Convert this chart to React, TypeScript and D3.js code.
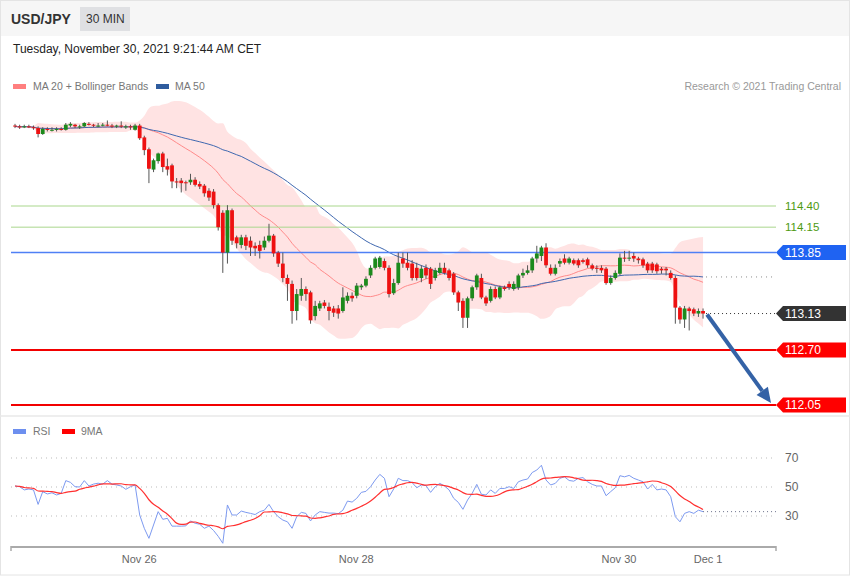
import React from "react";
import * as d3 from "d3";

// ---------- DATA (USD/JPY, 30 min candles) ----------
const open = [
  115.35,115.34,115.33,115.34,115.33,115.32,115.25,115.31,115.30,115.30,
  115.31,115.30,115.35,115.36,115.34,115.34,115.37,115.36,115.35,115.35,
  115.36,115.35,115.34,115.35,115.34,115.34,115.30,115.35,115.21,115.07,
  114.83,114.93,115.02,114.87,114.88,114.69,114.70,114.68,114.68,114.71,
  114.66,114.64,114.58,114.57,114.41,114.32,113.85,114.35,114.03,113.94,
  114.03,113.99,113.93,113.94,113.91,113.99,114.05,113.85,113.72,113.55,
  113.48,113.16,113.34,113.42,113.38,113.10,113.19,113.26,113.21,113.19,
  113.19,113.16,113.28,113.34,113.34,113.44,113.46,113.58,113.67,113.68,
  113.75,113.67,113.37,113.49,113.78,113.73,113.72,113.67,113.55,113.67,
  113.66,113.55,113.61,113.67,113.64,113.60,113.38,113.28,113.08,113.31,
  113.44,113.55,113.32,113.28,113.42,113.32,113.44,113.48,113.42,113.44,
  113.58,113.61,113.64,113.78,113.81,113.91,113.67,113.60,113.72,113.78,
  113.73,113.76,113.76,113.76,113.77,113.70,113.67,113.67,113.66,113.49,
  113.55,113.60,113.79,113.78,113.81,113.78,113.77,113.72,113.72,113.71,
  113.66,113.66,113.61,113.55,113.20,113.06,113.19,113.18,113.13,113.16,
];
const high = [
  115.37,115.36,115.36,115.36,115.35,115.34,115.33,115.33,115.33,115.33,
  115.33,115.38,115.39,115.37,115.36,115.39,115.39,115.37,115.38,115.38,
  115.41,115.37,115.36,115.40,115.36,115.36,115.37,115.37,115.23,115.09,
  114.96,115.03,115.04,114.96,114.90,114.73,114.73,114.70,114.78,114.74,
  114.69,114.66,114.61,114.60,114.43,114.35,114.41,114.37,114.05,114.06,
  114.06,114.04,113.97,113.99,114.04,114.19,114.07,113.87,113.85,113.59,
  113.52,113.42,113.55,113.45,113.40,113.28,113.28,113.29,113.26,113.22,
  113.23,113.44,113.38,113.38,113.49,113.48,113.57,113.70,113.80,113.81,
  113.78,113.70,113.54,113.85,113.85,113.85,113.76,113.73,113.70,113.71,
  113.68,113.67,113.73,113.73,113.66,113.62,113.40,113.31,113.33,113.46,
  113.60,113.60,113.34,113.45,113.45,113.46,113.46,113.51,113.51,113.60,
  113.66,113.70,113.80,113.93,113.93,113.96,113.71,113.71,113.78,113.83,
  113.80,113.78,113.78,113.78,113.79,113.72,113.70,113.70,113.68,113.58,
  113.64,113.84,113.87,113.87,113.85,113.80,113.79,113.74,113.74,113.73,
  113.68,113.68,113.64,113.58,113.22,113.22,113.21,113.20,113.19,113.19,
];
const low = [
  115.32,115.31,115.32,115.32,115.30,115.21,115.24,115.28,115.28,115.28,
  115.29,115.29,115.33,115.32,115.31,115.33,115.35,115.33,115.33,115.34,
  115.34,115.32,115.32,115.32,115.31,115.30,115.29,115.18,115.00,114.67,
  114.80,114.90,114.80,114.76,114.61,114.61,114.56,114.58,114.65,114.63,
  114.60,114.51,114.46,114.37,114.11,113.61,113.72,113.94,113.90,113.90,
  113.88,113.81,113.81,113.78,113.88,113.97,113.80,113.68,113.50,113.28,
  113.01,113.05,113.28,113.28,113.01,113.05,113.16,113.19,113.05,113.09,
  113.07,113.14,113.25,113.27,113.31,113.41,113.44,113.55,113.65,113.66,
  113.64,113.32,113.35,113.47,113.67,113.64,113.52,113.52,113.50,113.54,
  113.42,113.52,113.59,113.59,113.52,113.35,113.16,112.96,112.96,113.28,
  113.41,113.30,113.22,113.26,113.30,113.30,113.40,113.41,113.40,113.41,
  113.55,113.59,113.61,113.73,113.75,113.67,113.58,113.58,113.68,113.71,
  113.71,113.70,113.67,113.72,113.67,113.64,113.61,113.61,113.47,113.47,
  113.53,113.58,113.74,113.75,113.74,113.72,113.67,113.61,113.61,113.60,
  113.60,113.58,113.53,113.01,113.01,112.96,112.93,113.10,113.09,113.07,
];
const close = [
  115.34,115.33,115.34,115.33,115.32,115.25,115.31,115.30,115.30,115.31,
  115.30,115.36,115.37,115.34,115.34,115.38,115.36,115.35,115.35,115.36,
  115.35,115.34,115.35,115.34,115.34,115.33,115.35,115.20,115.06,114.84,
  114.94,115.02,114.86,114.83,114.69,114.68,114.67,114.67,114.71,114.65,
  114.63,114.55,114.50,114.41,114.15,113.85,114.35,113.99,113.96,114.03,
  113.93,113.91,113.90,113.87,113.99,114.05,113.84,113.72,113.55,113.48,
  113.16,113.36,113.42,113.36,113.05,113.22,113.25,113.22,113.16,113.14,
  113.13,113.32,113.34,113.31,113.46,113.46,113.54,113.67,113.78,113.79,
  113.67,113.36,113.49,113.73,113.72,113.67,113.55,113.55,113.66,113.58,
  113.48,113.64,113.67,113.61,113.55,113.38,113.26,113.08,113.31,113.44,
  113.58,113.32,113.25,113.42,113.32,113.44,113.42,113.44,113.48,113.58,
  113.61,113.64,113.78,113.84,113.91,113.70,113.60,113.67,113.75,113.73,
  113.78,113.72,113.70,113.74,113.70,113.66,113.66,113.64,113.49,113.55,
  113.61,113.79,113.78,113.79,113.78,113.76,113.70,113.64,113.64,113.63,
  113.64,113.64,113.55,113.20,113.06,113.19,113.16,113.13,113.16,113.13,
];
const rsi = [
  50.7,50.2,48,48.6,48,38,46.8,45.2,46,44.5,
  45.6,54.4,53.2,50.2,50,54.4,50.7,52,52.6,52,
  54.4,52,51.4,50.7,48.4,50.2,51.4,30.7,21.5,14.6,
  23.8,33,27.7,28.4,23,23,23,23.2,26.6,25,
  24.3,21.5,23,20,16,11.2,37.6,30.7,30.7,33.4,
  32.5,31.8,31,33,34,38,33,29.5,27.2,26,
  21.5,29.5,32.5,31.8,26.6,30.7,33,32.5,32,32,
  31.6,34,40.3,39.6,42.2,46.3,47,50.2,54.8,58.7,
  56,43.3,48.6,56,54.4,54.4,53,49.5,51.4,51,
  46.3,50.2,52.5,50.7,48,42.2,39.4,34.6,41,45.6,
  51.8,45,44.5,48,45.6,49,49,50.2,49,53.6,
  54.8,55.5,60,61.7,65,54.8,51.4,52.5,56,57,
  54.5,54,56,56.5,53.6,51.8,50.7,50.7,44,46.8,
  49.5,57.8,57,58,56,54.8,53.6,48.6,51.8,48,
  48.6,48,43.3,29.5,26,31.8,33,31.8,34,33,
];
const resistanceLevels = [114.40, 114.15];
const pivotLevel = 113.85;
const supportLevels = [112.70, 112.05];
const rsiLevels = [70, 50, 30];
const xTickLabels = ["Nov 26", "Nov 28", "Nov 30", "Dec 1"];
const xTickIndex = [26.9, 73.9, 130.8, 150.1];

// ---------- helpers ----------
function movingAvg(arr: number[], n: number) {
  return arr.map((_, i) => d3.mean(arr.slice(Math.max(0, i - n + 1), i + 1)) as number);
}
function movingStd(arr: number[], n: number) {
  return arr.map((_, i) => {
    const s = arr.slice(Math.max(0, i - n + 1), i + 1);
    const m = d3.mean(s) as number;
    return Math.sqrt(d3.mean(s.map((v) => (v - m) * (v - m))) as number);
  });
}

const FONT = "'Liberation Sans', Arial, Helvetica, sans-serif";

export default function App() {
  const W = 850, H = 576;
  const x = d3.scaleLinear().domain([-0.87, 164.8]).range([11, 776]);
  const y = d3.scaleLinear().domain([112.05, 114.40]).range([405, 206]);
  const yr = d3.scaleLinear().domain([30, 70]).range([516, 458]);

  const ma20 = movingAvg(close, 20);
  const sd20 = movingStd(close, 20);
  const upper = ma20.map((m, i) => m + 2 * sd20[i]);
  const lower = ma20.map((m, i) => m - 2 * sd20[i]);
  const ma50 = movingAvg(close, 50);
  const rsiMa = movingAvg(rsi, 9);

  const idx = close.map((_, i) => i);
  const band = d3.area<number>().x((i) => x(i)).y0((i) => y(lower[i])).y1((i) => y(upper[i])).curve(d3.curveMonotoneX);
  const lineOf = (arr: number[], sc: any) => d3.line<number>().x((i) => x(i)).y((i) => sc(arr[i])).curve(d3.curveMonotoneX)(idx) as string;
  const rsiLine = d3.line<number>().x((i) => x(i)).y((i) => yr(rsi[i]))(idx) as string;

  const last = close.length - 1;
  const xLast = x(last);
  const bw = 3.8;

  const labelBox = (val: number, fill: string) => {
    const cy = y(val);
    const p = `M776,${cy} L783,${cy - 7.5} L846,${cy - 7.5} L846,${cy + 7.5} L783,${cy + 7.5} Z`;
    return (
      <g key={"lb" + val}>
        <path d={p} fill={fill} />
        <text x={785} y={cy + 4} fill="#fff" fontSize={12} fontFamily={FONT}>{val.toFixed(2)}</text>
      </g>
    );
  };

  // arrow
  const ax1 = xLast + 4, ay1 = y(close[last]) + 1;
  const ax2 = 771, ay2 = y(supportLevels[1]) - 2;
  const ang = Math.atan2(ay2 - ay1, ax2 - ax1);
  const headL = 15, headW = 7;
  const bx = ax2 - headL * Math.cos(ang), by = ay2 - headL * Math.sin(ang);
  const head = `M${ax2},${ay2} L${bx + headW * Math.sin(ang)},${by - headW * Math.cos(ang)} L${bx - headW * Math.sin(ang)},${by + headW * Math.cos(ang)} Z`;

  return (
    <svg width={W} height={H} style={{ position: "absolute", left: 0, top: 0, background: "#fff" }}>
      <rect x={0} y={0} width={W} height={H} fill="#fff" />
      <rect x={0} y={0} width={W} height={36} fill="#f6f6f6" />
      <rect x={0.5} y={0.5} width={W - 1} height={H - 1.5} fill="none" stroke="#e4e4e4" />
      <text x={11} y={24} fontSize={14} fontWeight="bold" fill="#333" fontFamily={FONT}>USD/JPY</text>
      <rect x={80} y={7} width={50} height={24} fill="#dfe0e3" />
      <text x={86} y={23} fontSize={12} fill="#333" fontFamily={FONT}>30 MIN</text>
      <text x={13} y={53} fontSize={12} fill="#222" fontFamily={FONT}>Tuesday, November 30, 2021 9:21:44 AM CET</text>

      {/* legend */}
      <rect x={13} y={84} width={13} height={5} fill="#ff7f7f" />
      <text x={33} y={90} fontSize={10.5} fill="#777" fontFamily={FONT}>MA 20 + Bollinger Bands</text>
      <rect x={156} y={84} width={13} height={5} fill="#2f5c9e" />
      <text x={175} y={90} fontSize={10.5} fill="#777" fontFamily={FONT}>MA 50</text>
      <text x={841} y={90} fontSize={10.5} fill="#999" textAnchor="end" fontFamily={FONT}>Research © 2021 Trading Central</text>

      {/* bollinger */}
      <path d={band(idx) as string} fill="#ffe3e3" />
      <path d={lineOf(ma20, y)} fill="none" stroke="#ff8a8a" strokeWidth={1} />
      <path d={lineOf(ma50, y)} fill="none" stroke="#3f68b0" strokeWidth={1} />

      {/* levels */}
      {resistanceLevels.map((v) => (
        <g key={"r" + v}>
          <line x1={11} x2={776} y1={y(v)} y2={y(v)} stroke="#a9d78c" strokeWidth={1} />
          <text x={785} y={y(v) + 4} fontSize={11.5} fill="#4d9a10" fontFamily={FONT}>{v.toFixed(2)}</text>
        </g>
      ))}
      <line x1={11} x2={776} y1={y(pivotLevel)} y2={y(pivotLevel)} stroke="#4f80f5" strokeWidth={1.5} />
      {supportLevels.map((v) => (
        <line key={"s" + v} x1={11} x2={776} y1={y(v)} y2={y(v)} stroke="#f20000" strokeWidth={2} />
      ))}
      <line x1={xLast + 3} x2={776} y1={y(ma50[last])} y2={y(ma50[last])} stroke="#888" strokeDasharray="1,4" />
      <line x1={xLast + 3} x2={776} y1={y(close[last])} y2={y(close[last])} stroke="#333" strokeDasharray="1,3" />

      {/* candles */}
      {idx.map((i) => {
        const up = close[i] >= open[i];
        const col = up ? "#1c8a1c" : "#ee1111";
        const top = y(Math.max(open[i], close[i]));
        const bot = y(Math.min(open[i], close[i]));
        return (
          <g key={"c" + i}>
            <line x1={x(i)} x2={x(i)} y1={y(high[i])} y2={y(low[i])} stroke="#555" strokeWidth={1} />
            <rect x={x(i) - bw / 2} y={top} width={bw} height={Math.max(1, bot - top)} fill={col} />
          </g>
        );
      })}

      {labelBox(pivotLevel, "#1f63f2")}
      {labelBox(close[last], "#333333")}
      {supportLevels.map((v) => labelBox(v, "#ff0000"))}

      {/* arrow */}
      <line x1={ax1} y1={ay1} x2={bx} y2={by} stroke="#3462a6" strokeWidth={4} />
      <path d={head} fill="#3462a6" />

      {/* separator */}
      <line x1={0} x2={W} y1={416} y2={416} stroke="#e8e8e8" strokeWidth={1.5} />

      {/* RSI panel */}
      <rect x={13} y={429} width={13} height={5} fill="#6d8fef" />
      <text x={33} y={435} fontSize={10.5} fill="#777" fontFamily={FONT}>RSI</text>
      <rect x={62} y={429} width={13} height={5} fill="#ff0000" />
      <text x={81} y={435} fontSize={10.5} fill="#777" fontFamily={FONT}>9MA</text>
      {rsiLevels.map((v) => (
        <g key={"rl" + v}>
          <line x1={11} x2={776} y1={yr(v)} y2={yr(v)} stroke="#bbb" strokeDasharray="1,4" />
          <text x={785} y={yr(v) + 4} fontSize={12} fill="#666" fontFamily={FONT}>{v}</text>
        </g>
      ))}
      <line x1={xLast} x2={776} y1={yr(rsi[last])} y2={yr(rsi[last])} stroke="#6a6f8a" strokeDasharray="1,3" />
      <path d={rsiLine} fill="none" stroke="#7d9af0" strokeWidth={1} />
      <path d={d3.line<number>().x((i) => x(i)).y((i) => yr(rsiMa[i])).curve(d3.curveMonotoneX)(idx) as string} fill="none" stroke="#ff3030" strokeWidth={1.2} />

      {/* x axis */}
      <line x1={11} x2={776} y1={547} y2={547} stroke="#aaa" strokeWidth={2} />
      <line x1={11} x2={11} y1={546} y2={551} stroke="#aaa" strokeWidth={1.5} />
      <line x1={776} x2={776} y1={546} y2={551} stroke="#aaa" strokeWidth={1.5} />
      {xTickLabels.map((t, k) => (
        <text key={t} x={x(xTickIndex[k])} y={563} fontSize={11} fill="#666" textAnchor="middle" fontFamily={FONT}>{t}</text>
      ))}
    </svg>
  );
}
